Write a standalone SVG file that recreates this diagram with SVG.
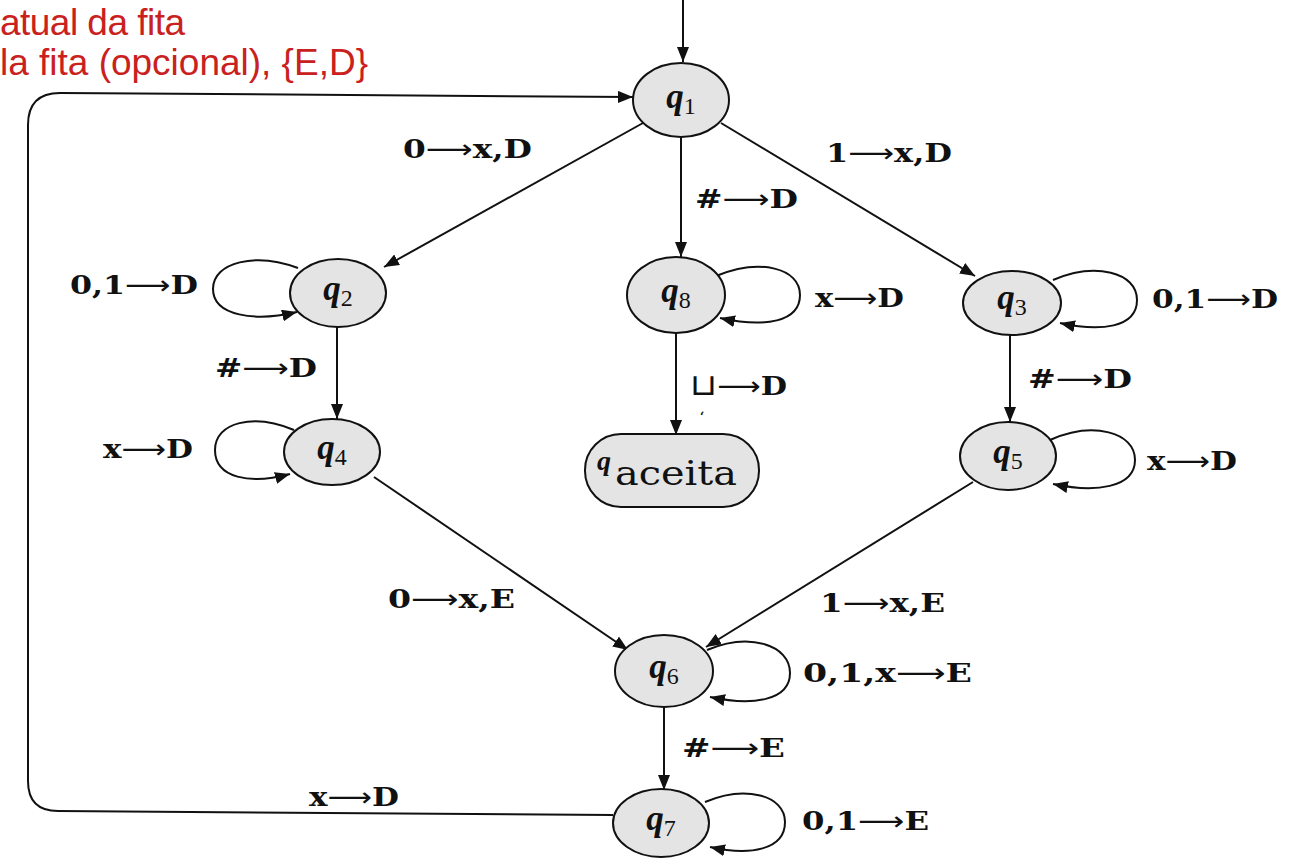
<svg xmlns="http://www.w3.org/2000/svg" width="1296" height="861" viewBox="0 0 1296 861">
  <defs>
    <marker id="ah" markerUnits="userSpaceOnUse" markerWidth="16" markerHeight="12" refX="15" refY="6" orient="auto">
      <path d="M0,0 L15,6 L0,12 Z" fill="#111"/>
    </marker>
    <style>
      .st ellipse, .st rect { fill:#e4e4e4; stroke:#111; stroke-width:2; }
      .edge { fill:none; stroke:#111; stroke-width:2; marker-end:url(#ah); }
      .lbl { font-family:"DejaVu Serif", "Liberation Serif", serif; font-weight:bold; font-size:26px; fill:#111; }
      .arr { font-family:"DejaVu Sans", sans-serif; font-weight:normal; }
      .q { font-family:"Liberation Serif", serif; font-style:italic; font-weight:bold; font-size:35px; fill:#111; text-anchor:middle; }
      .sub { font-style:normal; font-weight:normal; font-size:24px; }
      .note { font-family:"Liberation Sans", Arial, sans-serif; font-size:37px; fill:#c9211e; }
    </style>
  </defs>
  <rect width="1296" height="861" fill="#ffffff"/>

  <!-- red annotation text -->
  <text class="note" x="0" y="35" textLength="185">atual da fita</text>
  <text class="note" x="0" y="75" textLength="368">la fita (opcional), {E,D}</text>

  <!-- transitions -->
  <g id="connectors">
    <path class="edge" d="M683 0 L683 62"/>
    <path class="edge" d="M643 123 L384 267"/>
    <path class="edge" d="M681 137 L681 257"/>
    <path class="edge" d="M721 123 L975 276"/>
    <path class="edge" d="M337 327 L337 419"/>
    <path class="edge" d="M1010 333 L1010 422"/>
    <path class="edge" d="M676 333 L676 435"/>
    <path class="edge" d="M374 477 L628 650"/>
    <path class="edge" d="M973 482 L706 647"/>
    <path class="edge" d="M664 707 L664 790"/>
    <path class="edge" d="M613 815 L58 811 Q28 811 28 781 L28 125 Q28 93 60 93 L633 97"/>
    <!-- self loops -->
    <path class="edge" d="M298 268 C256 252 213 262 213 289 C213 316 255 322 297 312"/>
    <path class="edge" d="M294 430 C254 413 215 422 215 450 C215 478 250 485 290 474"/>
    <path class="edge" d="M716 276 C760 258 800 268 800 295 C800 322 765 328 720 318"/>
    <path class="edge" d="M1053 280 C1095 262 1137 272 1137 300 C1137 328 1100 332 1060 323"/>
    <path class="edge" d="M1050 440 C1093 421 1135 432 1135 460 C1135 488 1095 493 1053 484"/>
    <path class="edge" d="M707 650 C750 632 790 645 790 673 C790 701 752 706 710 697"/>
    <path class="edge" d="M705 802 C745 785 785 795 785 822 C785 850 750 856 710 847"/>
  </g>

  <!-- transition labels -->
  <g id="labels">
    <text class="lbl" x="403" y="158" textLength="129" lengthAdjust="spacingAndGlyphs">0<tspan class="arr">⟶</tspan>x,D</text>
    <text class="lbl" x="826" y="162" textLength="126" lengthAdjust="spacingAndGlyphs">1<tspan class="arr">⟶</tspan>x,D</text>
    <text class="lbl" x="695" y="208" textLength="103" lengthAdjust="spacingAndGlyphs">#<tspan class="arr">⟶</tspan>D</text>
    <text class="lbl" x="70" y="294" textLength="128" lengthAdjust="spacingAndGlyphs">0,1<tspan class="arr">⟶</tspan>D</text>
    <text class="lbl" x="815" y="307" textLength="89" lengthAdjust="spacingAndGlyphs">x<tspan class="arr">⟶</tspan>D</text>
    <text class="lbl" x="1152" y="308" textLength="126" lengthAdjust="spacingAndGlyphs">0,1<tspan class="arr">⟶</tspan>D</text>
    <text class="lbl" x="215" y="377" textLength="102" lengthAdjust="spacingAndGlyphs">#<tspan class="arr">⟶</tspan>D</text>
    <text class="lbl" x="690" y="395" textLength="97" lengthAdjust="spacingAndGlyphs"><tspan class="arr" style="font-size:30px">⊔</tspan><tspan class="arr">⟶</tspan>D</text>
    <text class="lbl" x="700" y="421" style="font-size:12px">‘</text>
    <text class="lbl" x="1028" y="388" textLength="104" lengthAdjust="spacingAndGlyphs">#<tspan class="arr">⟶</tspan>D</text>
    <text class="lbl" x="103" y="458" textLength="90" lengthAdjust="spacingAndGlyphs">x<tspan class="arr">⟶</tspan>D</text>
    <text class="lbl" x="1147" y="470" textLength="90" lengthAdjust="spacingAndGlyphs">x<tspan class="arr">⟶</tspan>D</text>
    <text class="lbl" x="388" y="608" textLength="127" lengthAdjust="spacingAndGlyphs">0<tspan class="arr">⟶</tspan>x,E</text>
    <text class="lbl" x="820" y="612" textLength="125" lengthAdjust="spacingAndGlyphs">1<tspan class="arr">⟶</tspan>x,E</text>
    <text class="lbl" x="803" y="682" textLength="169" lengthAdjust="spacingAndGlyphs">0,1,x<tspan class="arr">⟶</tspan>E</text>
    <text class="lbl" x="682" y="757" textLength="103" lengthAdjust="spacingAndGlyphs">#<tspan class="arr">⟶</tspan>E</text>
    <text class="lbl" x="309" y="806" textLength="90" lengthAdjust="spacingAndGlyphs">x<tspan class="arr">⟶</tspan>D</text>
    <text class="lbl" x="802" y="830" textLength="127" lengthAdjust="spacingAndGlyphs">0,1<tspan class="arr">⟶</tspan>E</text>
  </g>

  <!-- states -->
  <g id="q1" class="st"><ellipse cx="681" cy="100" rx="48" ry="37"/><text class="q" x="681" y="108">q<tspan class="sub" dy="6">1</tspan></text></g>
  <g id="q2" class="st"><ellipse cx="338" cy="293" rx="48" ry="34"/><text class="q" x="338" y="300">q<tspan class="sub" dy="6">2</tspan></text></g>
  <g id="q3" class="st"><ellipse cx="1012" cy="303" rx="49" ry="32"/><text class="q" x="1012" y="309">q<tspan class="sub" dy="6">3</tspan></text></g>
  <g id="q4" class="st"><ellipse cx="332" cy="452" rx="48" ry="33"/><text class="q" x="332" y="459">q<tspan class="sub" dy="6">4</tspan></text></g>
  <g id="q5" class="st"><ellipse cx="1008" cy="456" rx="48" ry="34"/><text class="q" x="1008" y="463">q<tspan class="sub" dy="6">5</tspan></text></g>
  <g id="q6" class="st"><ellipse cx="664" cy="671" rx="49" ry="36"/><text class="q" x="664" y="678">q<tspan class="sub" dy="6">6</tspan></text></g>
  <g id="q7" class="st"><ellipse cx="661" cy="823" rx="48" ry="34"/><text class="q" x="661" y="830">q<tspan class="sub" dy="6">7</tspan></text></g>
  <g id="q8" class="st"><ellipse cx="676" cy="295" rx="49" ry="38"/><text class="q" x="676" y="302">q<tspan class="sub" dy="6">8</tspan></text></g>
  <g id="qaceita" class="st"><rect x="585" y="434" width="174" height="73" rx="36" ry="36"/>
    <text class="q" x="597" y="470" style="font-size:28px; text-anchor:start">q</text>
    <text x="615" y="485" textLength="122" lengthAdjust="spacingAndGlyphs" font-family="DejaVu Serif, serif" font-size="34" fill="#111">aceita</text>
  </g>
</svg>
